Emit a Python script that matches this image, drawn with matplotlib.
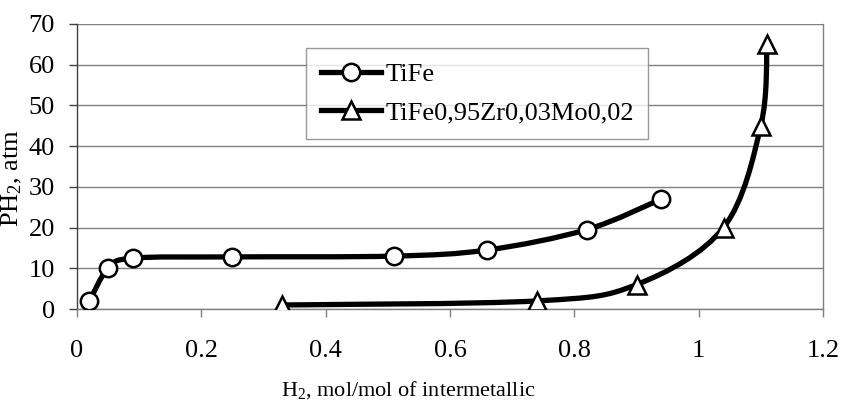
import numpy as np
import matplotlib
matplotlib.use('Agg')
import matplotlib.pyplot as plt
from matplotlib.path import Path
from matplotlib.patches import PathPatch
from matplotlib.lines import Line2D

# data
tife_x = [0.02, 0.05, 0.09, 0.25, 0.51, 0.66, 0.82, 0.94]
tife_p = [2, 10, 12.5, 12.8, 13, 14.5, 19.5, 27]
alloy_x = [0.33, 0.74, 0.90, 1.04, 1.10, 1.11]
alloy_p = [1, 2, 6, 20, 45, 65]
x_ticks = [0, 0.2, 0.4, 0.6, 0.8, 1, 1.2]
x_tick_labels = ['0', '0.2', '0.4', '0.6', '0.8', '1', '1.2']
y_ticks = [0, 10, 20, 30, 40, 50, 60, 70]
labels = ['TiFe', 'TiFe0,95Zr0,03Mo0,02']

plt.rcParams['font.family'] = ['Liberation Serif', 'DejaVu Serif']
plt.rcParams['mathtext.fontset'] = 'custom'
plt.rcParams['mathtext.rm'] = 'Liberation Serif'
plt.rcParams['mathtext.it'] = 'Liberation Serif:italic'


def smooth_path(x, y):
    # excel-like smoothed line: catmull-rom segments as cubic beziers
    pts = np.column_stack([x, y]).astype(float)
    n = len(pts)
    verts = [pts[0]]
    codes = [Path.MOVETO]
    for i in range(n - 1):
        p0 = pts[max(i - 1, 0)]
        p1 = pts[i]
        p2 = pts[i + 1]
        p3 = pts[min(i + 2, n - 1)]
        c1 = p1 + (p2 - p0) / 6.0
        c2 = p2 - (p3 - p1) / 6.0
        verts += [c1, c2, p2]
        codes += [Path.CURVE4] * 3
    return Path(verts, codes)


fig = plt.figure(figsize=(8.41, 4.04), dpi=100)
ax = fig.add_axes([0.0916, 0.235, 0.887, 0.706])

lw = 3.8
for xs, ys, m in [(tife_x, tife_p, 'o'), (alloy_x, alloy_p, '^')]:
    ax.add_patch(PathPatch(smooth_path(xs, ys), facecolor='none', edgecolor='black',
                           lw=lw, capstyle='round', joinstyle='round', zorder=3))
    ax.plot(xs, ys, linestyle='none', marker=m, ms=12.5 if m == 'o' else 13,
            mfc='white', mec='black', mew=1.8, zorder=4)

ax.set_xlim(0, 1.2)
ax.set_ylim(0, 70)
ax.set_xticks(x_ticks)
ax.set_xticklabels(x_tick_labels)
ax.set_yticks(y_ticks)
ax.yaxis.grid(True, color='#808080', lw=1)
ax.set_axisbelow(True)

for s in ['left', 'bottom', 'right']:
    ax.spines[s].set_color('#808080')
    ax.spines[s].set_linewidth(1)
ax.spines['left'].set_color('#404040')
ax.spines['top'].set_visible(False)

ax.tick_params(axis='both', labelsize=19, colors='black', direction='out', length=6,
               width=1)
ax.tick_params(axis='x', pad=16, color='#808080')
ax.tick_params(axis='y', pad=10, color='#404040')

ax.set_xlabel(r'$\mathrm{H_2}$, mol/mol of intermetallic', fontsize=16)
ax.xaxis.set_label_coords(0.444, -0.245)
ax.set_ylabel(r'$\mathrm{PH_2}$, atm', fontsize=19)
ax.yaxis.set_label_coords(-0.071, 0.46)

handles = [Line2D([], [], color='black', lw=lw, marker='o', ms=12.5, mfc='white',
                  mec='black', mew=1.8),
           Line2D([], [], color='black', lw=lw, marker='^', ms=13, mfc='white',
                  mec='black', mew=1.8)]
leg = ax.legend(handles, labels, loc='upper left', bbox_to_anchor=(0.307, 0.915),
                fontsize=19, frameon=True, fancybox=False, handlelength=2.3,
                handletextpad=0.15, borderpad=0.55, labelspacing=0.55, borderaxespad=0)
leg.get_frame().set_edgecolor('#808080')
leg.get_frame().set_linewidth(1)

fig.savefig('out.png', dpi=100)
